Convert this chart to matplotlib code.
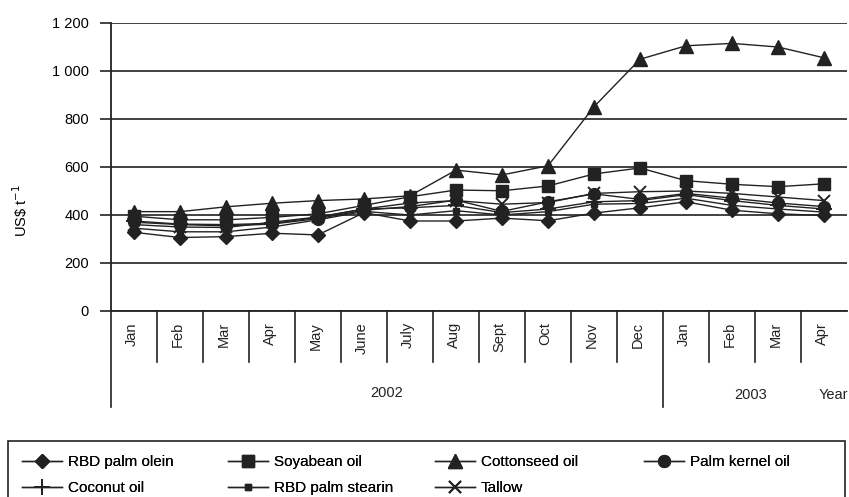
import matplotlib.pyplot as plt
from matplotlib.ticker import FuncFormatter
from matplotlib.patches import Rectangle
import matplotlib.transforms as mtransforms

months = ['Jan', 'Feb', 'Mar', 'Apr', 'May', 'June', 'July', 'Aug', 'Sept', 'Oct', 'Nov', 'Dec',
          'Jan', 'Feb', 'Mar', 'Apr']
olein = [328, 306, 310, 324, 317, 410, 375, 375, 387, 376, 408, 430, 455, 420, 405, 398]
soy = [395, 380, 380, 390, 405, 440, 476, 504, 501, 521, 571, 596, 543, 528, 518, 530]
cotton = [414, 414, 434, 449, 460, 467, 480, 587, 567, 605, 851, 1049, 1105, 1115, 1100, 1055]
kernel = [370, 360, 355, 362, 385, 420, 435, 462, 415, 455, 488, 465, 490, 470, 450, 435]
coconut = [375, 362, 360, 365, 390, 425, 430, 440, 410, 425, 455, 460, 485, 460, 440, 425]
stearin = [345, 330, 330, 350, 380, 415, 400, 418, 400, 414, 445, 448, 470, 440, 425, 412]
tallow = [360, 350, 348, 370, 392, 425, 450, 460, 445, 452, 490, 497, 500, 490, 475, 460]
years = ['2002', '2003']

plt.rcParams['font.family'] = ['Liberation Sans', 'DejaVu Sans']
ink = '#222222'
fs = 10.5

fig = plt.figure(figsize=(8.49, 4.97), dpi=100)
ax = fig.add_axes([111 / 849, 1 - 311 / 497, 736 / 849, 288 / 497])

x = list(range(len(months)))
series = [
    ('RBD palm olein', olein, dict(marker='D', ms=7.5)),
    ('Soyabean oil', soy, dict(marker='s', ms=9)),
    ('Cottonseed oil', cotton, dict(marker='^', ms=9.5)),
    ('Palm kernel oil', kernel, dict(marker='o', ms=8.5)),
    ('Coconut oil', coconut, dict(marker='+', ms=11, mew=1.4)),
    ('RBD palm stearin', stearin, dict(marker='s', ms=5)),
    ('Tallow', tallow, dict(marker='x', ms=8, mew=1.4)),
]
handles = {}
for name, vals, style in series:
    h, = ax.plot(x, vals, color=ink, lw=1.0, mfc=ink, mec=ink, label=name, **style)
    handles[name] = h

ax.set_xlim(-0.5, len(months) - 0.5)
ax.set_ylim(0, 1200)
ax.set_yticks(range(0, 1201, 200))
ax.yaxis.set_major_formatter(FuncFormatter(lambda v, p: f'{int(v):,}'.replace(',', ' ')))
ax.yaxis.grid(True, color='#333333', lw=1.3)
ax.set_axisbelow(True)
ax.tick_params(axis='y', length=8, width=1.2, color=ink, labelsize=fs, pad=8)
ax.tick_params(axis='x', length=0, labelbottom=False)
for s in ['top', 'right']:
    ax.spines[s].set_visible(False)
ax.spines['left'].set_color(ink)
ax.spines['left'].set_linewidth(1.3)
ax.spines['bottom'].set_color(ink)
ax.spines['bottom'].set_linewidth(1.3)
ax.set_ylabel('US\\$ t$^{-1}$', fontsize=fs)
ax.yaxis.set_label_coords(-0.11, 0.35)

# category table under the axis
trans = mtransforms.blended_transform_factory(ax.transData, ax.transAxes)
short = -51 / 288
tall = -96 / 288
for i in range(len(months)):
    b = i - 0.5
    lo = tall if i in (0, 12) else short
    ax.plot([b, b], [0, lo], transform=trans, color=ink, lw=1.2, clip_on=False)
for i, m in enumerate(months):
    ax.text(i - 0.05, -11 / 288, m, transform=trans, rotation=90, ha='center', va='top',
            fontsize=fs, color=ink)
ax.text(5.5, -82 / 288, years[0], transform=trans, ha='center', va='center', fontsize=fs, color=ink)
ax.text(13.4, -84 / 288, years[1], transform=trans, ha='center', va='center', fontsize=fs, color=ink)
ax.text(15.2, -84 / 288, 'Year', transform=trans, ha='center', va='center', fontsize=fs, color=ink)

# legend: four columns, two rows, inside one box
fig.add_artist(Rectangle((8 / 849, -0.02), 837 / 849, 56 / 497 + 0.02, transform=fig.transFigure,
                         fill=False, edgecolor=ink, lw=1.2))
columns = [['RBD palm olein', 'Coconut oil'], ['Soyabean oil', 'RBD palm stearin'],
           ['Cottonseed oil', 'Tallow'], ['Palm kernel oil']]
col_x = [22, 228, 435, 644]
for names, cx in zip(columns, col_x):
    leg = fig.legend([handles[n] for n in names], names, loc='upper left',
                     bbox_to_anchor=(cx / 849, 1 - 455 / 497), frameon=False,
                     borderpad=0, borderaxespad=0, handlelength=2.6, handletextpad=0.4,
                     labelspacing=0.78, prop={'size': 11})
    fig.add_artist(leg)

fig.savefig('out.png', dpi=100)
